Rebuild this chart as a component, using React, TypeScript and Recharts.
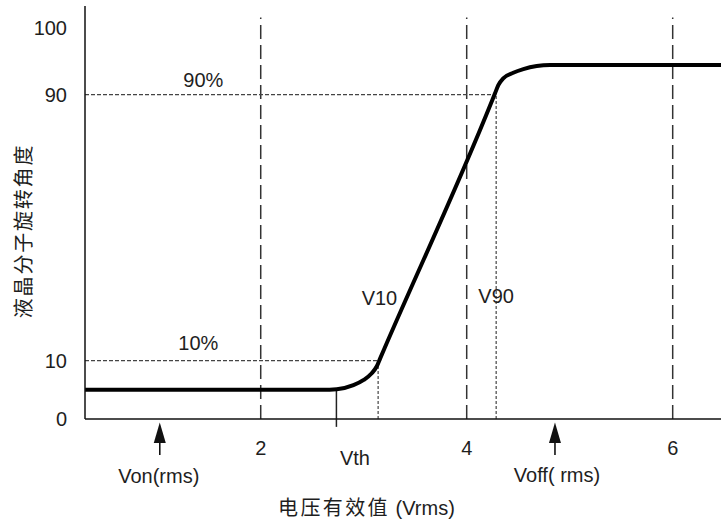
import {
  LineChart,
  Line,
  XAxis,
  YAxis,
  ReferenceLine,
  ReferenceDot,
  Label,
} from "recharts";

const FONT = '"Liberation Sans", Arial, "Noto Sans CJK SC", sans-serif';
const INK = "#1e1e1e";

// transfer curve (rms voltage -> rotation angle)
const voltage = [
  0.294, 2.6, 2.738, 2.9, 3.0, 3.078, 3.126, 3.16, 3.22, 4.24, 4.275, 4.307, 4.355, 4.452, 4.55,
  4.68, 4.81, 6.469,
];
const angle = [
  5, 5, 5.1, 5.8, 6.7, 7.85, 9.0, 10.7, 15.0, 87.7, 90.2, 91.44, 92.44, 93.27, 93.82, 94.27,
  94.42, 94.42,
];

const xTicks = [2, 4, 6];
const yTicks = [0, 10, 90, 100];

// marked voltages
const vth = 2.735;
const v10 = 3.14;
const v90 = 4.286;
const von = 1.02;
const voff = 4.857;

const data = voltage.map((v, i) => ({ v, a: angle[i] }));

// the angle axis is not linear in the picture: 0-10 and 90-100 are stretched
const yKnots = [0, 10, 90, 100, 103.2];
const yFrac = [0, 0.1412, 0.7852, 0.9479, 1];

function piecewiseScale(knots: number[], fracs: number[]): any {
  let dom = [knots[0], knots[knots.length - 1]];
  let rng = [0, 1];
  const toFrac = (v: number) => {
    let i = 0;
    while (i < knots.length - 2 && v > knots[i + 1]) i++;
    const t = (v - knots[i]) / (knots[i + 1] - knots[i]);
    return fracs[i] + t * (fracs[i + 1] - fracs[i]);
  };
  const scale: any = (v: number) => rng[0] + (rng[1] - rng[0]) * toFrac(Number(v));
  scale.domain = (d?: number[]) => {
    if (d === undefined) return dom.slice();
    dom = d.slice();
    return scale;
  };
  scale.range = (r?: number[]) => {
    if (r === undefined) return rng.slice();
    rng = r.slice();
    return scale;
  };
  scale.copy = () => piecewiseScale(knots, fracs).domain(dom).range(rng);
  scale.ticks = () => knots.slice(0, -1);
  scale.tickFormat = () => (v: number) => String(v);
  scale.invert = (px: number) => {
    const f = (px - rng[0]) / (rng[1] - rng[0]);
    let i = 0;
    while (i < fracs.length - 2 && f > fracs[i + 1]) i++;
    const t = (f - fracs[i]) / (fracs[i + 1] - fracs[i]);
    return knots[i] + t * (knots[i + 1] - knots[i]);
  };
  return scale;
}

const yScale = piecewiseScale(yKnots, yFrac);

const textStyle = { fontFamily: FONT, fontSize: 20, fill: INK };

const textAt = (label: string, dx = 0, dy = 0, anchor = "start") => (p: any) => (
  <text x={p.cx + dx} y={p.cy + dy} textAnchor={anchor} {...textStyle}>
    {label}
  </text>
);

const arrowAt = (label: string, dx: number, dy: number) => (p: any) => {
  const { cx, cy } = p;
  return (
    <g>
      <line x1={cx} y1={cy + 22} x2={cx} y2={cy + 36} stroke="#111" strokeWidth={1.6} />
      <polygon
        points={`${cx},${cy + 3.5} ${cx - 6},${cy + 24} ${cx + 6},${cy + 24}`}
        fill="#111"
      />
      <text x={cx + dx} y={cy + dy} textAnchor="middle" {...textStyle}>
        {label}
      </text>
    </g>
  );
};

const XTitle = (props: any) => {
  const vb = props.viewBox || { x: 85, y: 419, width: 636, height: 105 };
  return (
    <text x={vb.x + 193} y={vb.y + 96} {...textStyle}>
      <tspan letterSpacing={2.4}>电压有效值</tspan>
      <tspan> (Vrms)</tspan>
    </text>
  );
};

const YTitle = () => (
  <text
    x={24}
    y={231}
    textAnchor="middle"
    dominantBaseline="central"
    letterSpacing={1.8}
    transform="rotate(-90 24 231)"
    {...textStyle}
  >
    液晶分子旋转角度
  </text>
);

const dashed = { stroke: "#333", strokeWidth: 1.5, strokeDasharray: "14 6" };
const dotted = { stroke: "#444", strokeWidth: 1.2, strokeDasharray: "4 2" };

export default function App() {
  return (
    <div style={{ position: "absolute", left: 0, top: 0, width: 721, height: 524, background: "#fff" }}>
      <LineChart width={721} height={524} data={data} margin={{ top: 6, right: 0, bottom: 0, left: 0 }}>
        <XAxis
          type="number"
          dataKey="v"
          domain={[0.294, 6.469]}
          allowDataOverflow
          ticks={xTicks}
          height={105}
          axisLine={{ stroke: "#111", strokeWidth: 1.5 }}
          tickLine={false}
          tickSize={0}
          tickMargin={22}
          tick={textStyle}
        >
          <Label content={XTitle} />
        </XAxis>
        <YAxis
          type="number"
          scale={yScale}
          domain={[0, 103.2]}
          allowDataOverflow
          ticks={yTicks}
          width={85}
          axisLine={{ stroke: "#111", strokeWidth: 1.5 }}
          tickLine={false}
          tickSize={0}
          tickMargin={18}
          tick={textStyle}
        >
          <Label content={YTitle} />
        </YAxis>

        {xTicks.map((t) => (
          <ReferenceLine
            key={t}
            segment={[{ x: t, y: 0 }, { x: t, y: 101.5 }]}
            {...dashed}
          />
        ))}
        <ReferenceLine segment={[{ x: 0.294, y: 10 }, { x: v10, y: 10 }]} {...dotted} />
        <ReferenceLine segment={[{ x: 0.294, y: 90 }, { x: v90, y: 90 }]} {...dotted} />
        <ReferenceLine segment={[{ x: v10, y: 0 }, { x: v10, y: 10 }]} {...dotted} strokeDasharray="3 2" />
        <ReferenceLine segment={[{ x: v90, y: 0 }, { x: v90, y: 90 }]} {...dotted} strokeDasharray="3 2" />
        <ReferenceLine
          segment={[{ x: vth, y: 5 }, { x: vth, y: -1.35 }]}
          ifOverflow="visible"
          stroke="#222"
          strokeWidth={1.5}
        />

        <Line
          type="monotone"
          dataKey="a"
          stroke="#000"
          strokeWidth={4}
          dot={false}
          activeDot={false}
          isAnimationActive={false}
        />

        <ReferenceDot x={1.249} y={91.19} ifOverflow="visible" shape={textAt("90%")} />
        <ReferenceDot x={1.2} y={13.2} ifOverflow="visible" shape={textAt("10%")} />
        <ReferenceDot x={2.98} y={26.75} ifOverflow="visible" shape={textAt("V10")} />
        <ReferenceDot x={4.113} y={27.35} ifOverflow="visible" shape={textAt("V90")} />
        <ReferenceDot x={vth} y={0} ifOverflow="visible" shape={textAt("Vth", 3.5, 46)} />
        <ReferenceDot x={von} y={0} ifOverflow="visible" shape={arrowAt("Von(rms)", -1, 64)} />
        <ReferenceDot x={voff} y={0} ifOverflow="visible" shape={arrowAt("Voff( rms)", 2, 63)} />
      </LineChart>
    </div>
  );
}
